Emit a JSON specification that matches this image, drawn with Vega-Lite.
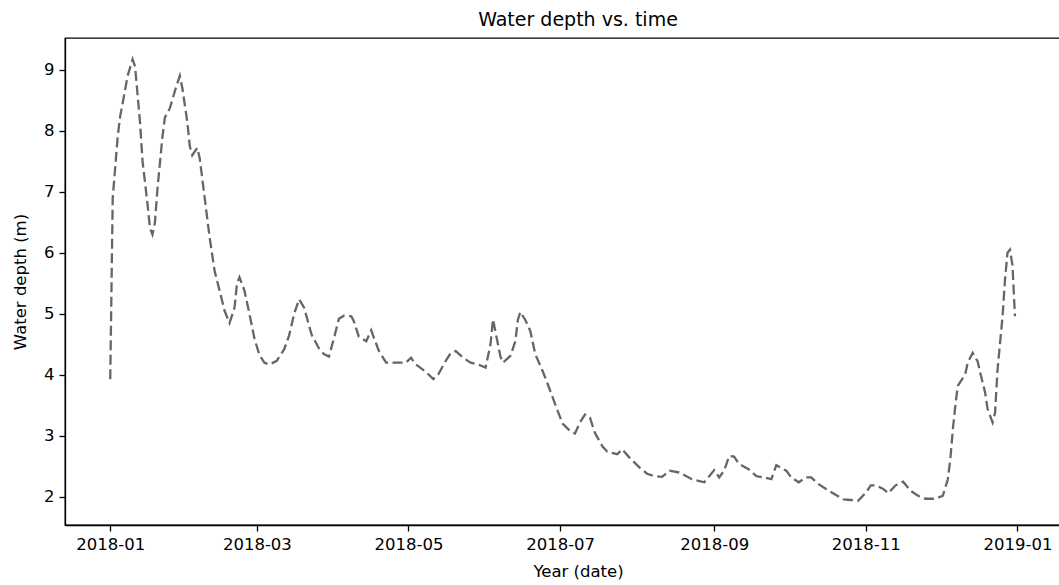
{
  "$schema": "https://vega.github.io/schema/vega-lite/v6.json",
  "autosize": {"type": "none"},
  "padding": {"left": 65, "top": 38, "right": 0, "bottom": 60},
  "width": 1026,
  "height": 487,
  "background": "white",
  "title": {"text": "Water depth vs. time", "fontSize": 19, "font": "DejaVu Sans", "fontWeight": "normal", "color": "#000000", "anchor": "middle", "offset": 8},
  "config": {
    "view": {"stroke": "#000000", "strokeWidth": 1.3},
    "axis": {"labelFont": "DejaVu Sans", "titleFont": "DejaVu Sans", "labelFontSize": 16.5, "titleFontSize": 16.5, "labelColor": "#000000", "titleColor": "#000000", "titleFontWeight": "normal", "domainColor": "#000000", "tickColor": "#000000", "tickSize": 6, "tickWidth": 1.3, "domainWidth": 1.3, "grid": false, "labelPadding": 5}
  },
  "data": {"values": [
    {"date": "2018-01-01", "depth": 3.93},
    {"date": "2018-01-02", "depth": 6.9},
    {"date": "2018-01-04", "depth": 7.9},
    {"date": "2018-01-05", "depth": 8.24},
    {"date": "2018-01-06", "depth": 8.45},
    {"date": "2018-01-08", "depth": 8.9},
    {"date": "2018-01-10", "depth": 9.17},
    {"date": "2018-01-11", "depth": 9.05},
    {"date": "2018-01-13", "depth": 8.13},
    {"date": "2018-01-14", "depth": 7.5},
    {"date": "2018-01-16", "depth": 6.8},
    {"date": "2018-01-17", "depth": 6.4},
    {"date": "2018-01-18", "depth": 6.3},
    {"date": "2018-01-19", "depth": 6.5},
    {"date": "2018-01-20", "depth": 7.05},
    {"date": "2018-01-22", "depth": 7.9},
    {"date": "2018-01-23", "depth": 8.22},
    {"date": "2018-01-25", "depth": 8.37},
    {"date": "2018-01-27", "depth": 8.65},
    {"date": "2018-01-29", "depth": 8.9},
    {"date": "2018-01-30", "depth": 8.7},
    {"date": "2018-02-01", "depth": 8.15},
    {"date": "2018-02-02", "depth": 7.75},
    {"date": "2018-02-03", "depth": 7.6},
    {"date": "2018-02-05", "depth": 7.72},
    {"date": "2018-02-06", "depth": 7.55},
    {"date": "2018-02-08", "depth": 6.9},
    {"date": "2018-02-10", "depth": 6.25},
    {"date": "2018-02-12", "depth": 5.7},
    {"date": "2018-02-14", "depth": 5.38},
    {"date": "2018-02-16", "depth": 5.05},
    {"date": "2018-02-18", "depth": 4.85},
    {"date": "2018-02-20", "depth": 5.1},
    {"date": "2018-02-21", "depth": 5.5},
    {"date": "2018-02-22", "depth": 5.6},
    {"date": "2018-02-24", "depth": 5.38},
    {"date": "2018-02-26", "depth": 5.0},
    {"date": "2018-02-28", "depth": 4.6},
    {"date": "2018-03-02", "depth": 4.33},
    {"date": "2018-03-04", "depth": 4.2},
    {"date": "2018-03-06", "depth": 4.17},
    {"date": "2018-03-09", "depth": 4.23},
    {"date": "2018-03-12", "depth": 4.42},
    {"date": "2018-03-14", "depth": 4.65},
    {"date": "2018-03-16", "depth": 5.0},
    {"date": "2018-03-18", "depth": 5.24},
    {"date": "2018-03-20", "depth": 5.1},
    {"date": "2018-03-23", "depth": 4.66},
    {"date": "2018-03-26", "depth": 4.43},
    {"date": "2018-03-28", "depth": 4.34},
    {"date": "2018-03-30", "depth": 4.3},
    {"date": "2018-04-01", "depth": 4.6},
    {"date": "2018-04-03", "depth": 4.92},
    {"date": "2018-04-05", "depth": 4.97},
    {"date": "2018-04-08", "depth": 4.96},
    {"date": "2018-04-09", "depth": 4.88},
    {"date": "2018-04-11", "depth": 4.63},
    {"date": "2018-04-14", "depth": 4.55},
    {"date": "2018-04-16", "depth": 4.73},
    {"date": "2018-04-17", "depth": 4.62},
    {"date": "2018-04-19", "depth": 4.4},
    {"date": "2018-04-22", "depth": 4.2},
    {"date": "2018-04-27", "depth": 4.2},
    {"date": "2018-04-30", "depth": 4.2},
    {"date": "2018-05-02", "depth": 4.28},
    {"date": "2018-05-04", "depth": 4.17},
    {"date": "2018-05-08", "depth": 4.05},
    {"date": "2018-05-11", "depth": 3.93},
    {"date": "2018-05-13", "depth": 4.01},
    {"date": "2018-05-16", "depth": 4.23},
    {"date": "2018-05-18", "depth": 4.36},
    {"date": "2018-05-20", "depth": 4.39},
    {"date": "2018-05-23", "depth": 4.28},
    {"date": "2018-05-26", "depth": 4.2},
    {"date": "2018-05-29", "depth": 4.17},
    {"date": "2018-06-01", "depth": 4.12},
    {"date": "2018-06-03", "depth": 4.5},
    {"date": "2018-06-04", "depth": 4.91},
    {"date": "2018-06-06", "depth": 4.5},
    {"date": "2018-06-07", "depth": 4.3},
    {"date": "2018-06-08", "depth": 4.2},
    {"date": "2018-06-11", "depth": 4.31},
    {"date": "2018-06-13", "depth": 4.55},
    {"date": "2018-06-14", "depth": 4.9},
    {"date": "2018-06-15", "depth": 5.03},
    {"date": "2018-06-17", "depth": 4.9},
    {"date": "2018-06-19", "depth": 4.72},
    {"date": "2018-06-21", "depth": 4.34},
    {"date": "2018-06-24", "depth": 4.06},
    {"date": "2018-06-26", "depth": 3.85},
    {"date": "2018-06-29", "depth": 3.52},
    {"date": "2018-07-02", "depth": 3.2},
    {"date": "2018-07-05", "depth": 3.08},
    {"date": "2018-07-07", "depth": 3.04},
    {"date": "2018-07-09", "depth": 3.22},
    {"date": "2018-07-11", "depth": 3.35},
    {"date": "2018-07-13", "depth": 3.3},
    {"date": "2018-07-15", "depth": 3.05},
    {"date": "2018-07-18", "depth": 2.83},
    {"date": "2018-07-20", "depth": 2.74},
    {"date": "2018-07-24", "depth": 2.7},
    {"date": "2018-07-26", "depth": 2.78},
    {"date": "2018-07-29", "depth": 2.64},
    {"date": "2018-08-02", "depth": 2.48},
    {"date": "2018-08-05", "depth": 2.38},
    {"date": "2018-08-08", "depth": 2.34},
    {"date": "2018-08-11", "depth": 2.33},
    {"date": "2018-08-14", "depth": 2.43},
    {"date": "2018-08-18", "depth": 2.4},
    {"date": "2018-08-23", "depth": 2.29},
    {"date": "2018-08-28", "depth": 2.24},
    {"date": "2018-08-30", "depth": 2.34},
    {"date": "2018-09-01", "depth": 2.44},
    {"date": "2018-09-03", "depth": 2.32},
    {"date": "2018-09-05", "depth": 2.43},
    {"date": "2018-09-07", "depth": 2.67},
    {"date": "2018-09-09", "depth": 2.66},
    {"date": "2018-09-11", "depth": 2.54},
    {"date": "2018-09-15", "depth": 2.45},
    {"date": "2018-09-18", "depth": 2.34},
    {"date": "2018-09-21", "depth": 2.32},
    {"date": "2018-09-24", "depth": 2.29},
    {"date": "2018-09-26", "depth": 2.52},
    {"date": "2018-09-30", "depth": 2.43},
    {"date": "2018-10-02", "depth": 2.32},
    {"date": "2018-10-05", "depth": 2.24},
    {"date": "2018-10-08", "depth": 2.32},
    {"date": "2018-10-10", "depth": 2.32},
    {"date": "2018-10-13", "depth": 2.21},
    {"date": "2018-10-16", "depth": 2.13},
    {"date": "2018-10-20", "depth": 2.03},
    {"date": "2018-10-23", "depth": 1.96},
    {"date": "2018-10-26", "depth": 1.95},
    {"date": "2018-10-29", "depth": 1.94},
    {"date": "2018-11-01", "depth": 2.07},
    {"date": "2018-11-03", "depth": 2.19},
    {"date": "2018-11-05", "depth": 2.19},
    {"date": "2018-11-08", "depth": 2.13},
    {"date": "2018-11-10", "depth": 2.06},
    {"date": "2018-11-13", "depth": 2.19},
    {"date": "2018-11-16", "depth": 2.25},
    {"date": "2018-11-19", "depth": 2.1},
    {"date": "2018-11-22", "depth": 2.02},
    {"date": "2018-11-25", "depth": 1.97},
    {"date": "2018-11-29", "depth": 1.97},
    {"date": "2018-12-02", "depth": 2.02},
    {"date": "2018-12-04", "depth": 2.29},
    {"date": "2018-12-05", "depth": 2.62},
    {"date": "2018-12-06", "depth": 3.1},
    {"date": "2018-12-07", "depth": 3.49},
    {"date": "2018-12-08", "depth": 3.82},
    {"date": "2018-12-11", "depth": 4.01},
    {"date": "2018-12-12", "depth": 4.2},
    {"date": "2018-12-14", "depth": 4.36},
    {"date": "2018-12-16", "depth": 4.22},
    {"date": "2018-12-17", "depth": 4.04},
    {"date": "2018-12-19", "depth": 3.71},
    {"date": "2018-12-20", "depth": 3.44},
    {"date": "2018-12-22", "depth": 3.22},
    {"date": "2018-12-23", "depth": 3.38},
    {"date": "2018-12-24", "depth": 4.09},
    {"date": "2018-12-26", "depth": 4.95},
    {"date": "2018-12-27", "depth": 5.56},
    {"date": "2018-12-28", "depth": 6.0},
    {"date": "2018-12-29", "depth": 6.05},
    {"date": "2018-12-30", "depth": 5.8},
    {"date": "2018-12-31", "depth": 4.96}
  ]},
  "mark": {"type": "line", "color": "#666666", "strokeWidth": 2.3, "strokeDash": [10, 4.5], "clip": true},
  "encoding": {
    "x": {
      "field": "date", "type": "temporal",
      "scale": {"type": "utc", "domain": [1513192320000, 1548858240000]},
      "axis": {"title": "Year (date)", "format": "%Y-%m", "values": [1514764800000, 1519862400000, 1525132800000, 1530403200000, 1535760000000, 1541030400000, 1546300800000], "titlePadding": 11, "labelFlush": false}
    },
    "y": {
      "field": "depth", "type": "quantitative",
      "scale": {"domain": [1.54, 9.52], "nice": false, "zero": false},
      "axis": {"title": "Water depth (m)", "values": [2, 3, 4, 5, 6, 7, 8, 9], "titlePadding": 15}
    }
  }
}
